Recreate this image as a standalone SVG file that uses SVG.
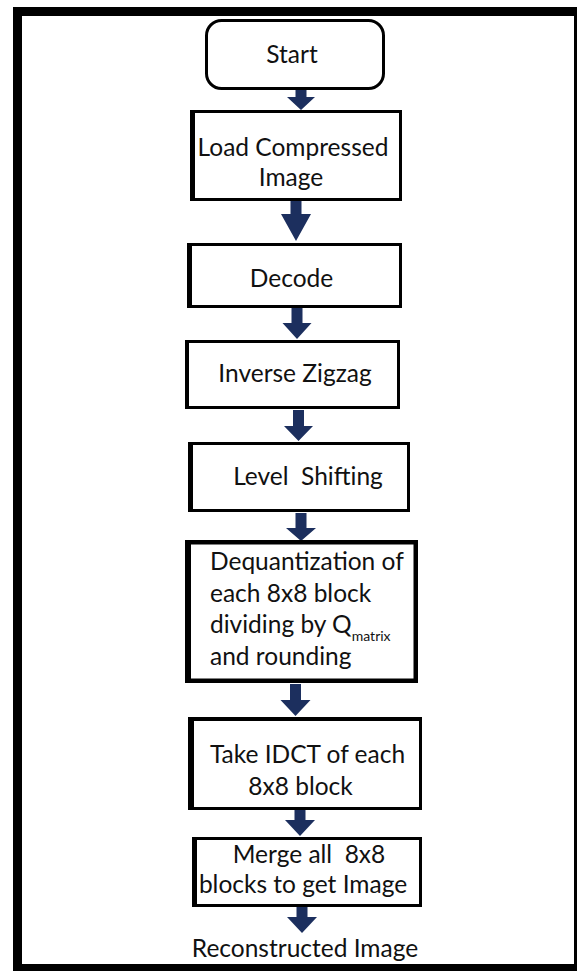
<svg xmlns="http://www.w3.org/2000/svg" width="579" height="971" viewBox="0 0 579 971">
<style>
  .box { fill: #ffffff; stroke: #000000; stroke-width: 3; }
  .thick { stroke-width: 4.5; }
  .edge { fill: #000000; }
  .lbl { font-family: Lato, "Open Sans", sans-serif; font-size: 24.5px; fill: #111111; text-anchor: middle; }
  .left { text-anchor: start; }
  .sub { font-size: 14px; }
  .arrow { fill: #1c2f5e; }
  .frame { fill: #000000; }
</style>
<rect x="0" y="0" width="579" height="971" fill="#ffffff"/>
<g id="frame">
  <rect class="frame" x="13" y="7" width="564" height="9"/>
  <rect class="frame" x="13" y="7" width="9" height="964"/>
  <rect class="frame" x="13" y="964" width="564" height="7"/>
  <rect class="frame" x="574" y="7" width="3" height="964"/>
</g>
<g id="connectors">
  <path class="arrow" d="M295.5,90 H306.5 V97 H315 L301,110 L287,97 H295.5 Z"/>
  <path class="arrow" d="M290.5,201 H301.5 V214 H311 L296,241 L281,214 H290.5 Z"/>
  <path class="arrow" d="M291.5,308 H302.5 V323 H311.5 L297,339 L282.5,323 H291.5 Z"/>
  <path class="arrow" d="M293,410 H304 V426 H313 L298.5,441 L284,426 H293 Z"/>
  <path class="arrow" d="M295.5,513 H306.5 V528 H316 L301,541 L286,528 H295.5 Z"/>
  <path class="arrow" d="M290,684 H301 V700 H310.5 L295.5,716 L280.5,700 H290 Z"/>
  <path class="arrow" d="M294.5,810 H305.5 V820 H315 L300,836 L285,820 H294.5 Z"/>
  <path class="arrow" d="M296.5,907 H307.5 V917 H317 L302,933 L287,917 H296.5 Z"/>
</g>
<g id="start">
  <rect class="box" x="206.5" y="20.5" width="177" height="68" rx="15"/>
  <text class="lbl" x="292" y="63">Start</text>
</g>
<g id="load">
  <rect class="box" x="191.5" y="111.5" width="209" height="88"/>
  <rect class="edge" x="190" y="110" width="5" height="91"/>
  <text class="lbl" x="293" y="156">Load Compressed</text>
  <text class="lbl" x="291" y="186">Image</text>
</g>
<g id="decode">
  <rect class="box" x="188.5" y="244.5" width="212" height="62"/>
  <rect class="edge" x="187" y="243" width="5" height="65"/>
  <text class="lbl" x="291.5" y="287">Decode</text>
</g>
<g id="inverse-zigzag">
  <rect class="box" x="186.5" y="341.5" width="212" height="66"/>
  <rect class="edge" x="185" y="340" width="4" height="69"/>
  <text class="lbl" x="295" y="382">Inverse Zigzag</text>
</g>
<g id="level-shifting">
  <rect class="box" x="189.5" y="443.5" width="219" height="67"/>
  <rect class="edge" x="188" y="442" width="5" height="70"/>
  <text class="lbl" x="308" y="485" xml:space="preserve">Level  Shifting</text>
</g>
<g id="dequantization">
  <rect class="box thick" x="187.25" y="542.25" width="228.5" height="138.5"/>
  <rect class="edge" x="185" y="540" width="6" height="143"/>
  <text class="lbl left" x="210" y="570">Dequantization of</text>
  <text class="lbl left" x="210" y="602">each 8x8 block</text>
  <text class="lbl left" x="210" y="633">dividing by Q<tspan class="sub" dy="8">matrix</tspan></text>
  <text class="lbl left" x="210" y="665">and rounding</text>
</g>
<g id="idct">
  <rect class="box" x="189.5" y="718.5" width="231" height="90"/>
  <rect class="edge" x="188" y="717" width="6" height="93"/>
  <rect class="edge" x="188" y="717" width="234" height="4"/>
  <text class="lbl" x="307.5" y="763">Take IDCT of each</text>
  <text class="lbl" x="300.5" y="795">8x8 block</text>
</g>
<g id="merge">
  <rect class="box" x="193.5" y="838.5" width="227" height="67"/>
  <rect class="edge" x="192" y="837" width="5" height="70"/>
  <text class="lbl" x="309" y="863" xml:space="preserve">Merge all  8x8</text>
  <text class="lbl" x="303" y="893">blocks to get Image</text>
</g>
<g id="reconstructed">
  <text class="lbl" x="305" y="957">Reconstructed Image</text>
</g>
</svg>
